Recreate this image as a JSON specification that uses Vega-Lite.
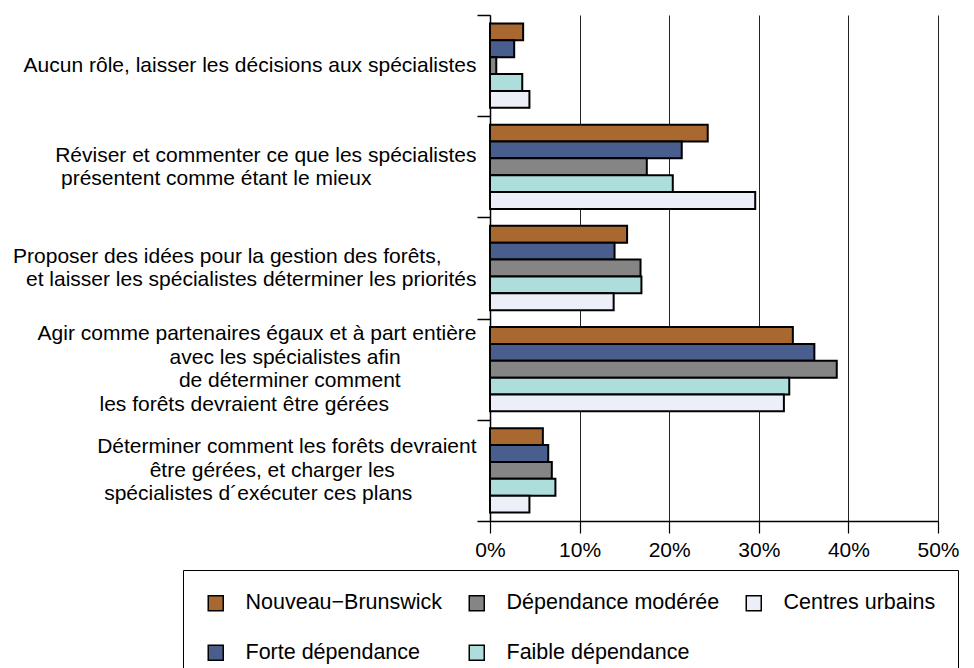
{
  "$schema": "https://vega.github.io/schema/vega-lite/v6.json",
  "width": 448,
  "height": 506,
  "autosize": "none",
  "padding": {"left": 490, "top": 15, "right": 36, "bottom": 147},
  "background": "white",
  "config": {"view": {"stroke": null}, "font": "Liberation Sans"},
  "datasets": {
    "rows": [
      {"cat": "Aucun rôle, laisser les décisions aux spécialistes", "series": "Nouveau−Brunswick", "value": 3.7},
      {"cat": "Aucun rôle, laisser les décisions aux spécialistes", "series": "Forte dépendance", "value": 2.7},
      {"cat": "Aucun rôle, laisser les décisions aux spécialistes", "series": "Dépendance modérée", "value": 0.7},
      {"cat": "Aucun rôle, laisser les décisions aux spécialistes", "series": "Faible dépendance", "value": 3.6},
      {"cat": "Aucun rôle, laisser les décisions aux spécialistes", "series": "Centres urbains", "value": 4.4},
      {"cat": "Réviser et commenter ce que les spécialistes|présentent comme étant le mieux\u00a0\u00a0\u00a0\u00a0\u00a0\u00a0\u00a0\u00a0\u00a0\u00a0\u00a0\u00a0\u00a0\u00a0\u00a0\u00a0\u00a0\u00a0\u200b", "series": "Nouveau−Brunswick", "value": 24.3},
      {"cat": "Réviser et commenter ce que les spécialistes|présentent comme étant le mieux\u00a0\u00a0\u00a0\u00a0\u00a0\u00a0\u00a0\u00a0\u00a0\u00a0\u00a0\u00a0\u00a0\u00a0\u00a0\u00a0\u00a0\u00a0\u200b", "series": "Forte dépendance", "value": 21.4},
      {"cat": "Réviser et commenter ce que les spécialistes|présentent comme étant le mieux\u00a0\u00a0\u00a0\u00a0\u00a0\u00a0\u00a0\u00a0\u00a0\u00a0\u00a0\u00a0\u00a0\u00a0\u00a0\u00a0\u00a0\u00a0\u200b", "series": "Dépendance modérée", "value": 17.5},
      {"cat": "Réviser et commenter ce que les spécialistes|présentent comme étant le mieux\u00a0\u00a0\u00a0\u00a0\u00a0\u00a0\u00a0\u00a0\u00a0\u00a0\u00a0\u00a0\u00a0\u00a0\u00a0\u00a0\u00a0\u00a0\u200b", "series": "Faible dépendance", "value": 20.4},
      {"cat": "Réviser et commenter ce que les spécialistes|présentent comme étant le mieux\u00a0\u00a0\u00a0\u00a0\u00a0\u00a0\u00a0\u00a0\u00a0\u00a0\u00a0\u00a0\u00a0\u00a0\u00a0\u00a0\u00a0\u00a0\u200b", "series": "Centres urbains", "value": 29.6},
      {"cat": "Proposer des idées pour la gestion des forêts,\u00a0\u00a0\u00a0\u00a0\u00a0\u00a0\u200b|et laisser les spécialistes déterminer les priorités", "series": "Nouveau−Brunswick", "value": 15.3},
      {"cat": "Proposer des idées pour la gestion des forêts,\u00a0\u00a0\u00a0\u00a0\u00a0\u00a0\u200b|et laisser les spécialistes déterminer les priorités", "series": "Forte dépendance", "value": 13.9},
      {"cat": "Proposer des idées pour la gestion des forêts,\u00a0\u00a0\u00a0\u00a0\u00a0\u00a0\u200b|et laisser les spécialistes déterminer les priorités", "series": "Dépendance modérée", "value": 16.8},
      {"cat": "Proposer des idées pour la gestion des forêts,\u00a0\u00a0\u00a0\u00a0\u00a0\u00a0\u200b|et laisser les spécialistes déterminer les priorités", "series": "Faible dépendance", "value": 16.9},
      {"cat": "Proposer des idées pour la gestion des forêts,\u00a0\u00a0\u00a0\u00a0\u00a0\u00a0\u200b|et laisser les spécialistes déterminer les priorités", "series": "Centres urbains", "value": 13.8},
      {"cat": "Agir comme partenaires égaux et à part entière|avec les spécialistes afin\u00a0\u00a0\u00a0\u00a0\u00a0\u00a0\u00a0\u00a0\u00a0\u00a0\u00a0\u00a0\u00a0\u200b|de déterminer comment\u00a0\u00a0\u00a0\u00a0\u00a0\u00a0\u00a0\u00a0\u00a0\u00a0\u00a0\u00a0\u00a0\u200b|les forêts devraient être gérées\u00a0\u00a0\u00a0\u00a0\u00a0\u00a0\u00a0\u00a0\u00a0\u00a0\u00a0\u00a0\u00a0\u00a0\u00a0\u200b", "series": "Nouveau−Brunswick", "value": 33.8},
      {"cat": "Agir comme partenaires égaux et à part entière|avec les spécialistes afin\u00a0\u00a0\u00a0\u00a0\u00a0\u00a0\u00a0\u00a0\u00a0\u00a0\u00a0\u00a0\u00a0\u200b|de déterminer comment\u00a0\u00a0\u00a0\u00a0\u00a0\u00a0\u00a0\u00a0\u00a0\u00a0\u00a0\u00a0\u00a0\u200b|les forêts devraient être gérées\u00a0\u00a0\u00a0\u00a0\u00a0\u00a0\u00a0\u00a0\u00a0\u00a0\u00a0\u00a0\u00a0\u00a0\u00a0\u200b", "series": "Forte dépendance", "value": 36.2},
      {"cat": "Agir comme partenaires égaux et à part entière|avec les spécialistes afin\u00a0\u00a0\u00a0\u00a0\u00a0\u00a0\u00a0\u00a0\u00a0\u00a0\u00a0\u00a0\u00a0\u200b|de déterminer comment\u00a0\u00a0\u00a0\u00a0\u00a0\u00a0\u00a0\u00a0\u00a0\u00a0\u00a0\u00a0\u00a0\u200b|les forêts devraient être gérées\u00a0\u00a0\u00a0\u00a0\u00a0\u00a0\u00a0\u00a0\u00a0\u00a0\u00a0\u00a0\u00a0\u00a0\u00a0\u200b", "series": "Dépendance modérée", "value": 38.7},
      {"cat": "Agir comme partenaires égaux et à part entière|avec les spécialistes afin\u00a0\u00a0\u00a0\u00a0\u00a0\u00a0\u00a0\u00a0\u00a0\u00a0\u00a0\u00a0\u00a0\u200b|de déterminer comment\u00a0\u00a0\u00a0\u00a0\u00a0\u00a0\u00a0\u00a0\u00a0\u00a0\u00a0\u00a0\u00a0\u200b|les forêts devraient être gérées\u00a0\u00a0\u00a0\u00a0\u00a0\u00a0\u00a0\u00a0\u00a0\u00a0\u00a0\u00a0\u00a0\u00a0\u00a0\u200b", "series": "Faible dépendance", "value": 33.4},
      {"cat": "Agir comme partenaires égaux et à part entière|avec les spécialistes afin\u00a0\u00a0\u00a0\u00a0\u00a0\u00a0\u00a0\u00a0\u00a0\u00a0\u00a0\u00a0\u00a0\u200b|de déterminer comment\u00a0\u00a0\u00a0\u00a0\u00a0\u00a0\u00a0\u00a0\u00a0\u00a0\u00a0\u00a0\u00a0\u200b|les forêts devraient être gérées\u00a0\u00a0\u00a0\u00a0\u00a0\u00a0\u00a0\u00a0\u00a0\u00a0\u00a0\u00a0\u00a0\u00a0\u00a0\u200b", "series": "Centres urbains", "value": 32.8},
      {"cat": "Déterminer comment les forêts devraient|être gérées, et charger les\u00a0\u00a0\u00a0\u00a0\u00a0\u00a0\u00a0\u00a0\u00a0\u00a0\u00a0\u00a0\u00a0\u00a0\u200b|spécialistes d´exécuter ces plans\u00a0\u00a0\u00a0\u00a0\u00a0\u00a0\u00a0\u00a0\u00a0\u00a0\u00a0\u200b", "series": "Nouveau−Brunswick", "value": 5.9},
      {"cat": "Déterminer comment les forêts devraient|être gérées, et charger les\u00a0\u00a0\u00a0\u00a0\u00a0\u00a0\u00a0\u00a0\u00a0\u00a0\u00a0\u00a0\u00a0\u00a0\u200b|spécialistes d´exécuter ces plans\u00a0\u00a0\u00a0\u00a0\u00a0\u00a0\u00a0\u00a0\u00a0\u00a0\u00a0\u200b", "series": "Forte dépendance", "value": 6.5},
      {"cat": "Déterminer comment les forêts devraient|être gérées, et charger les\u00a0\u00a0\u00a0\u00a0\u00a0\u00a0\u00a0\u00a0\u00a0\u00a0\u00a0\u00a0\u00a0\u00a0\u200b|spécialistes d´exécuter ces plans\u00a0\u00a0\u00a0\u00a0\u00a0\u00a0\u00a0\u00a0\u00a0\u00a0\u00a0\u200b", "series": "Dépendance modérée", "value": 6.9},
      {"cat": "Déterminer comment les forêts devraient|être gérées, et charger les\u00a0\u00a0\u00a0\u00a0\u00a0\u00a0\u00a0\u00a0\u00a0\u00a0\u00a0\u00a0\u00a0\u00a0\u200b|spécialistes d´exécuter ces plans\u00a0\u00a0\u00a0\u00a0\u00a0\u00a0\u00a0\u00a0\u00a0\u00a0\u00a0\u200b", "series": "Faible dépendance", "value": 7.3},
      {"cat": "Déterminer comment les forêts devraient|être gérées, et charger les\u00a0\u00a0\u00a0\u00a0\u00a0\u00a0\u00a0\u00a0\u00a0\u00a0\u00a0\u00a0\u00a0\u00a0\u200b|spécialistes d´exécuter ces plans\u00a0\u00a0\u00a0\u00a0\u00a0\u00a0\u00a0\u00a0\u00a0\u00a0\u00a0\u200b", "series": "Centres urbains", "value": 4.4}
    ]
  },
  "data": {"name": "rows"},
  "mark": {"type": "bar", "stroke": "black", "strokeWidth": 2},
  "encoding": {
    "y": {
      "field": "cat",
      "type": "nominal",
      "sort": null,
      "scale": {"paddingInner": 0, "paddingOuter": 0},
      "axis": {
        "title": null,
        "labelExpr": "split(datum.label, '|')",
        "labelFont": "Liberation Sans",
        "labelFontSize": 21,
        "labelColor": "black",
        "labelLineHeight": 23.5,
        "labelLimit": 700,
        "labelPadding": 1,
        "labelAlign": "right",
        "labelBaseline": "middle",
        "labelOffset": {
          "condition": [
            {"test": "length(split(datum.label, '|')) == 2", "value": -11.75},
            {"test": "length(split(datum.label, '|')) == 3", "value": -23.5},
            {"test": "length(split(datum.label, '|')) == 4", "value": -35.25}
          ],
          "value": 0
        },
        "tickBand": "extent",
        "tickSize": 13,
        "tickColor": "black",
        "tickWidth": 1.5,
        "domainColor": "black",
        "domainWidth": 1.5,
        "grid": false
      }
    },
    "yOffset": {
      "field": "series",
      "type": "nominal",
      "scale": {
        "domain": ["Nouveau−Brunswick", "Forte dépendance", "Dépendance modérée", "Faible dépendance", "Centres urbains"],
        "paddingInner": 0,
        "paddingOuter": 0.5
      }
    },
    "x": {
      "field": "value",
      "type": "quantitative",
      "scale": {"domain": [0, 50], "nice": false},
      "axis": {
        "title": null,
        "values": [0, 10, 20, 30, 40, 50],
        "labelExpr": "datum.value + '%'",
        "labelFont": "Liberation Sans",
        "labelFontSize": 21,
        "labelColor": "black",
        "labelFlush": false,
        "labelPadding": 6,
        "grid": true,
        "gridColor": "#222222",
        "gridWidth": 1,
        "tickSize": 12,
        "tickColor": "black",
        "tickWidth": 1.2,
        "domainColor": "black",
        "domainWidth": 1.5
      }
    },
    "color": {
      "field": "series",
      "type": "nominal",
      "scale": {
        "domain": ["Nouveau−Brunswick", "Dépendance modérée", "Centres urbains", "Forte dépendance", "Faible dépendance"],
        "range": ["#A9682F", "#858585", "#EDEFF8", "#4A5E8E", "#ADDEDB"]
      },
      "legend": {
        "title": null,
        "orient": "none",
        "legendX": -307,
        "legendY": 555,
        "direction": "horizontal",
        "columns": 3,
        "gridAlign": "each",
        "strokeColor": "black",
        "fillColor": "white",
        "padding": 22,
        "labelFont": "Liberation Sans",
        "labelFontSize": 21.5,
        "labelColor": "black",
        "labelOffset": 19,
        "labelLimit": 400,
        "symbolType": "square",
        "symbolSize": 225,
        "symbolStrokeColor": "black",
        "symbolStrokeWidth": 1.5,
        "symbolOpacity": 1,
        "rowPadding": 27,
        "columnPadding": 23
      }
    }
  }
}
